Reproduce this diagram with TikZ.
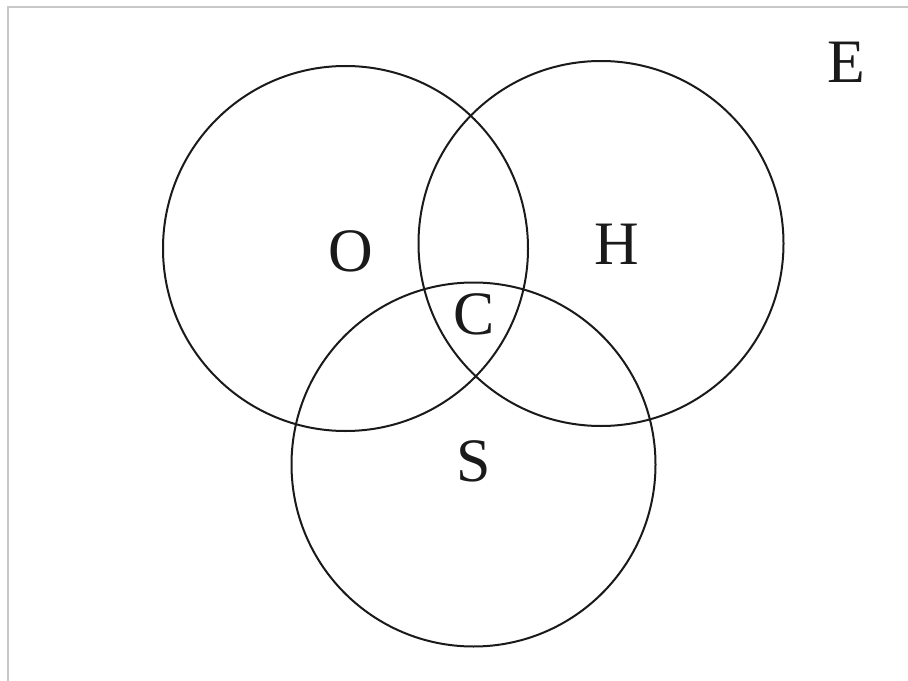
\documentclass[tikz,border=0pt]{standalone}
\usepackage{fontspec}
\setmainfont{Liberation Serif}
\usepackage{xcolor}
\definecolor{setblack}{HTML}{1A1A1A}
\definecolor{framegray}{HTML}{C8C8C8}

\begin{document}
\begin{tikzpicture}[x=1bp, y=-1bp,
  setline/.style={setblack, line width=2bp},
  setlabel/.style={font=\fontsize{62}{62}\selectfont, text=setblack, inner sep=0pt}]
  \useasboundingbox (0,0) rectangle (908,681);

  % Frame of the universe (only top and left edges show)
  \draw[framegray, line width=2.5bp] (8,681) -- (8,7) -- (908,7);

  % The three sets
  \draw[setline] (345.5,248.5) circle (182.5);
  \draw[setline] (601,243.5) circle (182.5);
  \draw[setline] (473.5,464.5) circle (182);

  % Labels
  \node[setlabel] (labelO) at (351,251) {O};
  \node[setlabel] (labelH) at (617,244) {H};
  \node[setlabel] (labelC) at (474,314) {C};
  \node[setlabel] (labelS) at (474,461) {S};
  \node[setlabel] (labelE) at (846,62) {E};
\end{tikzpicture}
\end{document}
